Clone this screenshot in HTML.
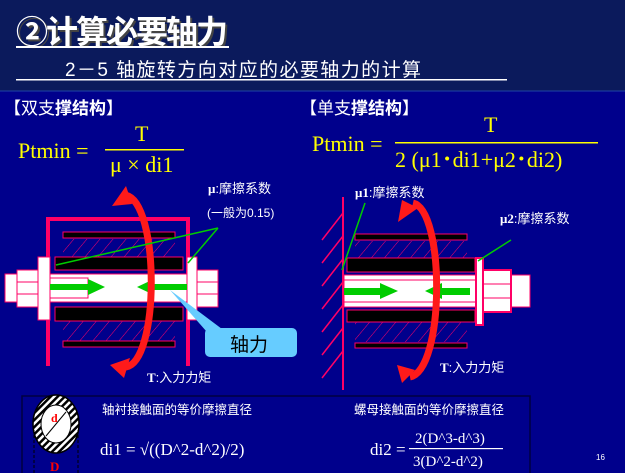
<!DOCTYPE html>
<html><head><meta charset="utf-8"><style>
body{margin:0;width:625px;height:473px;overflow:hidden;background:#00008c}
svg{display:block}
.cj{font-family:"Liberation Sans","Noto Sans CJK SC",sans-serif}
.sf{font-family:"Liberation Serif","Noto Serif CJK SC",serif}
</style></head><body>
<svg width="625" height="473" viewBox="0 0 625 473">
<defs>
<pattern id="h" width="10" height="10" patternUnits="userSpaceOnUse" patternTransform="rotate(40)"><line x1="0" y1="0" x2="0" y2="10" stroke="#ff0066" stroke-width="1"/></pattern>
<pattern id="hb" width="5" height="5" patternUnits="userSpaceOnUse" patternTransform="rotate(45)"><rect width="5" height="5" fill="#fff"/><rect width="2.5" height="5" fill="#000"/></pattern>
</defs>
<rect width="625" height="91" fill="#0b1a5c"/>
<rect y="90" width="625" height="2" fill="#1a3aa0" opacity=".6"/>
<text x="18" y="45" class="cj" font-size="32" font-weight="bold" fill="#444" textLength="212">②计算必要轴力</text>
<text x="16" y="43" class="cj" font-size="32" font-weight="bold" fill="#fff" textLength="212">②计算必要轴力</text>
<rect x="16" y="46" width="213" height="2" fill="#fff"/>
<text x="65" y="76" class="cj" font-size="19" fill="#fff" textLength="356">2－5 轴旋转方向对应的必要轴力的计算</text>
<rect x="16" y="79" width="491" height="1.5" fill="#fff"/>
<text x="4" y="114" class="cj" font-size="17" fill="#fff">【双支<tspan font-weight="bold">撑结构</tspan>】</text>
<text x="300" y="114" class="cj" font-size="17" fill="#fff">【单支<tspan font-weight="bold">撑结构</tspan>】</text>
<g class="sf" fill="#ffff00" font-size="22">
<text x="18" y="158">Ptmin =</text>
<text x="135" y="141">T</text>
<rect x="105" y="149" width="79" height="1.5"/>
<text x="110" y="172">μ × di1</text>
<text x="312" y="151">Ptmin =</text>
<text x="484" y="132">T</text>
<rect x="395" y="142" width="203" height="1.5"/>
<text x="395" y="167">2 (μ1･di1+μ2･di2)</text>
</g>
<!-- left diagram -->
<g stroke="#ff0066">
<path d="M48,366 V219 H188 V366" fill="none" stroke-width="4"/>
<rect x="63" y="232" width="112" height="6" fill="#000"/>
<rect x="63" y="239" width="112" height="18" fill="url(#h)" stroke="none"/>
<rect x="55" y="257" width="128" height="13" fill="#000"/>
<rect x="55" y="307" width="128" height="14" fill="#000"/>
<rect x="63" y="321" width="112" height="20" fill="url(#h)" stroke="none"/>
<rect x="63" y="341" width="112" height="6" fill="#000"/>
<rect x="5" y="274" width="213" height="28" fill="#fff"/>
<rect x="17" y="270" width="21" height="37" fill="#fff"/>
<line x1="17" y1="282" x2="38" y2="282"/><line x1="17" y1="294" x2="38" y2="294"/>
<rect x="38" y="257" width="12" height="63" fill="#fff"/>
<rect x="50" y="278" width="38" height="20" fill="#fff"/>
<rect x="187" y="257" width="10" height="63" fill="#fff"/>
<rect x="197" y="270" width="21" height="37" fill="#fff"/>
<line x1="197" y1="282" x2="218" y2="282"/><line x1="197" y1="294" x2="218" y2="294"/>
</g>
<g fill="#00cc00">
<rect x="50" y="284" width="40" height="6"/><polygon points="88,279 105,287 88,295"/>
<rect x="152" y="284" width="35" height="6"/><polygon points="154,279 137,287 154,295"/>
</g>
<path d="M170,290 L230,335 L214,340 Z" fill="#66ccff"/>
<rect x="205" y="328" width="92" height="29" rx="5" fill="#66ccff"/>
<text x="230" y="351" class="cj" font-size="19" fill="#000">轴力</text>
<path d="M125,195 C160,200 160,365 125,367" fill="none" stroke="#ff1a1a" stroke-width="7"/>
<polygon points="112,206 126,186 132,204" fill="#ff1a1a"/>
<polygon points="110,365 130,358 124,378" fill="#ff1a1a"/>
<g stroke="#00cc00" stroke-width="1.5"><line x1="218" y1="228" x2="56" y2="265"/><line x1="218" y1="228" x2="188" y2="263"/></g>
<text x="208" y="193" class="cj" font-size="13" fill="#fff"><tspan font-weight="bold" class="sf">μ</tspan>:摩擦系数</text>
<text x="207" y="217" class="cj" font-size="12" fill="#fff">(一般为0.15)</text>
<text x="147" y="382" class="cj" font-size="13" fill="#fff"><tspan class="sf" font-weight="bold">T</tspan>:入力力矩</text>
<!-- right diagram -->
<g stroke="#ff0066" stroke-width="1.5">
<line x1="343" y1="197" x2="343" y2="390" stroke-width="2"/>
<line x1="343" y1="213" x2="322" y2="240"/><line x1="343" y1="236" x2="322" y2="263"/><line x1="343" y1="259" x2="322" y2="286"/><line x1="343" y1="282" x2="322" y2="309"/><line x1="343" y1="305" x2="322" y2="332"/><line x1="343" y1="328" x2="322" y2="355"/><line x1="343" y1="351" x2="322" y2="378"/>
</g>
<g stroke="#ff0066">
<rect x="355" y="234" width="112" height="6" fill="#000"/>
<rect x="355" y="241" width="112" height="17" fill="url(#h)" stroke="none"/>
<rect x="347" y="258" width="128" height="14" fill="#000"/>
<rect x="347" y="310" width="128" height="12" fill="#000"/>
<rect x="355" y="322" width="112" height="20" fill="url(#h)" stroke="none"/>
<rect x="355" y="343" width="112" height="5" fill="#000"/>
<rect x="344" y="275" width="186" height="32" fill="#fff"/>
<line x1="344" y1="280" x2="475" y2="280"/><line x1="344" y1="302" x2="475" y2="302"/>
<rect x="476" y="258" width="7" height="67" fill="#fff" stroke-width="2"/>
<rect x="483" y="270" width="28" height="42" fill="#fff" stroke-width="2"/>
<line x1="483" y1="284" x2="511" y2="284"/><line x1="483" y1="298" x2="511" y2="298"/>
</g>
<g fill="#00cc00">
<rect x="344" y="288" width="36" height="7"/><polygon points="380,283 398,291 380,299"/>
<rect x="440" y="288" width="30" height="7"/><polygon points="442,283 425,291 442,299"/>
</g>
<path d="M413,203 C445,210 445,370 410,377" fill="none" stroke="#ff1a1a" stroke-width="7"/>
<polygon points="398,222 402,200 418,208" fill="#ff1a1a"/>
<polygon points="397,365 415,370 402,383" fill="#ff1a1a"/>
<g stroke="#00cc00" stroke-width="1.5"><line x1="365" y1="203" x2="342" y2="270"/><line x1="511" y1="240" x2="478" y2="261"/></g>
<text x="355" y="197" class="cj" font-size="13" fill="#fff"><tspan class="sf" font-weight="bold">μ1</tspan>:摩擦系数</text>
<text x="500" y="223" class="cj" font-size="13" fill="#fff"><tspan class="sf" font-weight="bold">μ2</tspan>:摩擦系数</text>
<text x="440" y="372" class="cj" font-size="13" fill="#fff"><tspan class="sf" font-weight="bold">T</tspan>:入力力矩</text>
<!-- bottom box -->
<rect x="22" y="396" width="508" height="80" fill="#00008c" stroke="#000040" stroke-width="1.5"/>
<ellipse cx="56" cy="424" rx="23" ry="29" fill="url(#hb)" stroke="#000" stroke-width="1.5"/>
<ellipse cx="56" cy="424" rx="15" ry="19" fill="#fff" stroke="#000" stroke-width="1"/>
<line x1="46" y1="436" x2="66" y2="412" stroke="#000"/>
<g stroke="#000" stroke-dasharray="3,2"><line x1="34" y1="430" x2="34" y2="473"/><line x1="78" y1="430" x2="78" y2="473"/></g>
<text x="51" y="422" class="sf" font-size="12" font-weight="bold" fill="#ff0000">d</text>
<text x="50" y="471" class="sf" font-size="13" font-weight="bold" fill="#ff0000">D</text>
<text x="102" y="414" class="cj" font-size="12.5" fill="#fff">轴衬接触面的等价摩擦直径</text>
<text x="354" y="414" class="cj" font-size="12.5" fill="#fff">螺母接触面的等价摩擦直径</text>
<text x="100" y="455" class="sf" font-size="17" fill="#fff">di1 = √((D^2-d^2)/2)</text>
<text x="370" y="455" class="sf" font-size="17" fill="#fff">di2 =</text>
<text x="415" y="443" class="sf" font-size="15" fill="#fff">2(D^3-d^3)</text>
<rect x="409" y="448" width="94" height="1.2" fill="#fff"/>
<text x="413" y="466" class="sf" font-size="15" fill="#fff">3(D^2-d^2)</text>
<text x="596" y="460" class="cj" font-size="8" fill="#fff">16</text>
</svg>
</body></html>
